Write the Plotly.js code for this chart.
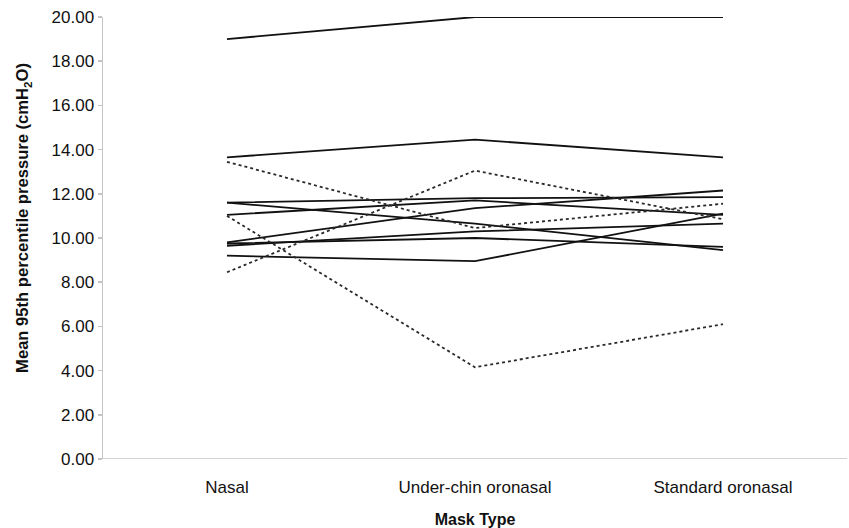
<!DOCTYPE html>
<html>
<head>
<meta charset="utf-8">
<script src="https://cdn.plot.ly/plotly-3.0.1.min.js"></script>
<style>html,body{margin:0;padding:0;background:#fff;}#chart{width:849px;height:528px;}</style>
</head>
<body>
<div id="chart"></div>
<script>
const categories = ["Nasal", "Under-chin oronasal", "Standard oronasal"];

// Solid lines (one array per participant)
const solidSeries = [
  [19.0, 20.0, 20.0],
  [13.65, 14.45, 13.65],
  [11.6, 11.8, 11.85],
  [11.05, 11.7, 11.05],
  [11.6, 10.65, 9.45],
  [9.8, 11.35, 12.15],
  [9.65, 10.3, 10.65],
  [9.75, 10.0, 9.6],
  [9.2, 8.95, 11.1]
];

// Dotted lines
const dottedSeries = [
  [13.45, 10.45, 11.55],
  [8.45, 13.05, 10.85],
  [11.0, 4.15, 6.1]
];

const yTickVals = [0, 2, 4, 6, 8, 10, 12, 14, 16, 18, 20];
const yTickText = ["0.00", "2.00", "4.00", "6.00", "8.00", "10.00", "12.00", "14.00", "16.00", "18.00", "20.00"];
const yTitle = "<b>Mean 95th percentile pressure (cmH<sub>2</sub>O)</b>";

const traces = [];
solidSeries.forEach(function (vals) {
  traces.push({
    x: categories, y: vals, type: "scatter", mode: "lines",
    line: {color: "#111111", width: 1.8}, hoverinfo: "skip", showlegend: false
  });
});
dottedSeries.forEach(function (vals) {
  traces.push({
    x: categories, y: vals, type: "scatter", mode: "lines",
    line: {color: "#2a2a2a", width: 1.8, dash: "dot"}, hoverinfo: "skip", showlegend: false
  });
});

const layout = {
  width: 849, height: 528,
  margin: {l: 103, r: 2, t: 17, b: 69},
  paper_bgcolor: "#ffffff", plot_bgcolor: "#ffffff",
  font: {family: "Liberation Sans, Arial, sans-serif", color: "#111111", size: 17},
  showlegend: false,
  xaxis: {
    type: "category",
    range: [-0.5, 2.5],
    showgrid: false, zeroline: false,
    showline: false,
    ticks: "",
    ticklabelstandoff: 16,
    tickfont: {size: 17, color: "#111111"},
    title: {text: "<b>Mask Type</b>", font: {size: 16, color: "#111111"}, standoff: 18}
  },
  yaxis: {
    range: [0, 20],
    tickvals: yTickVals, ticktext: yTickText,
    showgrid: false, zeroline: false,
    showline: true, linecolor: "#c4c4c4", linewidth: 1.5,
    ticks: "outside", ticklen: 4, tickcolor: "#c4c4c4", tickwidth: 1.5,
    tickfont: {size: 17, color: "#111111"}
  },
  annotations: [{
    text: yTitle, textangle: -90,
    xref: "paper", yref: "paper", x: -0.1075, y: 0.5455,
    xanchor: "center", yanchor: "middle", showarrow: false,
    font: {size: 16.6, color: "#111111"}
  }],
  shapes: [{
    type: "line", xref: "paper", yref: "y", x0: 0, x1: 1, y0: 0, y1: 0,
    line: {color: "#c4c4c4", width: 1.5}
  }]
};

Plotly.newPlot("chart", traces, layout, {displayModeBar: false, staticPlot: true});
</script>
</body>
</html>
